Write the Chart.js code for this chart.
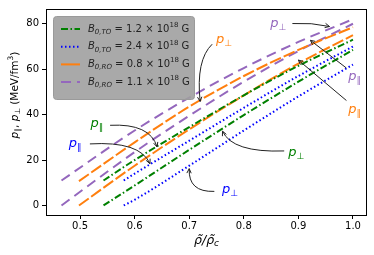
<!DOCTYPE html>
<html>
<head>
<meta charset="utf-8">
<script src="https://cdn.jsdelivr.net/npm/chart.js@4/dist/chart.umd.min.js"></script>
<style>
  html, body { margin: 0; padding: 0; background: #fff; }
  #wrap { width: 374px; height: 255px; }
</style>
</head>
<body>
<div id="wrap"><canvas id="chart" width="374" height="255"></canvas></div>
<script>
// data
const xPurple = [0.466, 0.6, 0.7, 0.8, 0.9, 1.0];
const purplePerp = [11, 33, 47.5, 60.5, 72, 82];
const purplePar = [0, 23.5, 39.5, 54.5, 68, 80];

const xOrange = [0.498, 0.6, 0.7, 0.8, 0.9, 1.0];
const orangePerp = [10.7, 27.8, 43.5, 57, 68.5, 78.5];
const orangePar = [0, 17.5, 33.5, 48.5, 62.5, 75];

const xGreen = [0.543, 0.6, 0.7, 0.8, 0.9, 1.0];
const greenPar = [11, 20, 34.5, 48.5, 61.5, 73];
const greenPerp = [0, 8.8, 24.5, 39.8, 54.5, 68.5];

const xBlue = [0.58, 0.6, 0.7, 0.8, 0.9, 1.0];
const bluePar = [11, 14, 28.5, 43, 57, 70];
const bluePerp = [0, 2.5, 17.5, 33, 48, 62];

const xTicks = [0.5, 0.6, 0.7, 0.8, 0.9, 1.0];
const yTicks = [0, 20, 40, 60, 80];

const legendItems = [
  { sub: '0,TO', val: '1.2', color: '#008000', dash: [7, 2.5, 1.5, 2.5] },
  { sub: '0,TO', val: '2.4', color: '#0000ff', dash: [1.5, 2.5] },
  { sub: '0,RO', val: '0.8', color: '#ff7f0e', dash: [] },
  { sub: '0,RO', val: '1.1', color: '#9467bd', dash: [10, 6] }
];

// annotation labels: text, arrow start, control, tip (data coords)
const notes = [
  { sym: '\u2225', color: '#008000', text: [0.531, 36.2], from: [0.555, 35.3], ctrl: [0.628, 36.2], to: [0.641, 25.8] },
  { sym: '\u2225', color: '#0000ff', text: [0.491, 27.1], from: [0.518, 27.1], ctrl: [0.610, 28.4], to: [0.628, 18.4] },
  { sym: '\u22a5', color: '#ff7f0e', text: [0.764, 73.2], from: [0.742, 71.0], ctrl: [0.712, 64.0], to: [0.720, 45.8] },
  { sym: '\u22a5', color: '#9467bd', text: [0.863, 80.1], from: [0.889, 80.1], ctrl: [0.924, 80.6], to: [0.957, 78.8] },
  { sym: '\u2225', color: '#9467bd', text: [1.003, 56.7], from: [0.988, 60.5], ctrl: null, to: [0.922, 72.7] },
  { sym: '\u2225', color: '#ff7f0e', text: [1.003, 42.2], from: [0.988, 46.2], ctrl: null, to: [0.900, 64.0] },
  { sym: '\u22a5', color: '#008000', text: [0.896, 23.2], from: [0.874, 24.0], ctrl: [0.779, 23.2], to: [0.761, 32.7] },
  { sym: '\u22a5', color: '#0000ff', text: [0.775, 7.1], from: [0.746, 6.2], ctrl: [0.698, 5.8], to: [0.700, 16.2] }
];

const FONT = '"DejaVu Sans", sans-serif';

function pts(xs, ys) {
  return xs.map((x, i) => ({ x: x, y: ys[i] }));
}

function ds(xs, ys, item) {
  return {
    data: pts(xs, ys),
    borderColor: item.color,
    borderDash: item.dash.length ? item.dash : (item.color === '#ff7f0e' ? [12, 3] : []),
    borderWidth: 2,
    pointRadius: 0,
    fill: false,
    cubicInterpolationMode: 'monotone'
  };
}

// draw text made of pieces (italic, sub, sup)
function rich(ctx, parts, x, y, align) {
  let w = 0;
  parts.forEach(p => {
    ctx.font = (p.it ? 'italic ' : '') + p.size + 'px ' + FONT;
    p.w = ctx.measureText(p.t).width;
    w += p.w;
  });
  let cx = align === 'center' ? x - w / 2 : x;
  parts.forEach(p => {
    ctx.font = (p.it ? 'italic ' : '') + p.size + 'px ' + FONT;
    ctx.fillText(p.t, cx, y + (p.dy || 0));
    cx += p.w;
  });
  return w;
}

const extras = {
  id: 'extras',
  afterDraw(chart) {
    const ctx = chart.ctx;
    const a = chart.chartArea;
    const xs = chart.scales.x, ys = chart.scales.y;
    const px = v => xs.getPixelForValue(v);
    const py = v => ys.getPixelForValue(v);
    ctx.save();

    // frame
    ctx.strokeStyle = '#000';
    ctx.lineWidth = 1;
    ctx.strokeRect(Math.round(a.left) + 0.5, Math.round(a.top) + 0.5,
      Math.round(a.right - a.left) - 1, Math.round(a.bottom - a.top));

    // annotations
    notes.forEach(n => {
      ctx.fillStyle = n.color;
      ctx.textBaseline = 'middle';
      rich(ctx, [
        { t: 'p', it: true, size: 13 },
        { t: n.sym, size: 9, dy: 4 }
      ], px(n.text[0]), py(n.text[1]), 'center');

      const sx = px(n.from[0]), sy = py(n.from[1]);
      const tx = px(n.to[0]), ty = py(n.to[1]);
      const c = n.ctrl ? [px(n.ctrl[0]), py(n.ctrl[1])] : [(sx + tx) / 2, (sy + ty) / 2];
      ctx.strokeStyle = '#222';
      ctx.lineWidth = 1;
      ctx.setLineDash([]);
      ctx.beginPath();
      ctx.moveTo(sx, sy);
      ctx.quadraticCurveTo(c[0], c[1], tx, ty);
      ctx.stroke();
      const ang = Math.atan2(ty - c[1], tx - c[0]);
      const L = 5;
      ctx.beginPath();
      ctx.moveTo(tx - L * Math.cos(ang - 0.45), ty - L * Math.sin(ang - 0.45));
      ctx.lineTo(tx, ty);
      ctx.lineTo(tx - L * Math.cos(ang + 0.45), ty - L * Math.sin(ang + 0.45));
      ctx.stroke();
    });

    // legend box
    const bx = a.left + 7, by = a.top + 7, bw = 141, bh = 83;
    ctx.fillStyle = 'rgba(160,160,160,0.9)';
    ctx.strokeStyle = '#9a9a9a';
    ctx.beginPath();
    ctx.roundRect(bx + 0.5, by + 0.5, bw, bh, 3);
    ctx.fill();
    ctx.stroke();
    legendItems.forEach((it, i) => {
      const ly = by + 13 + i * 17.7;
      ctx.strokeStyle = it.color;
      ctx.lineWidth = 2;
      ctx.setLineDash(it.dash);
      ctx.beginPath();
      ctx.moveTo(bx + 8, ly);
      ctx.lineTo(bx + 27, ly);
      ctx.stroke();
      ctx.setLineDash([]);
      ctx.fillStyle = '#222';
      ctx.textBaseline = 'middle';
      rich(ctx, [
        { t: 'B', it: true, size: 10 },
        { t: it.sub, it: true, size: 7, dy: 3 },
        { t: ' = ' + it.val + ' \u00d7 10', size: 10 },
        { t: '18', size: 7, dy: -4 },
        { t: ' G', size: 10 }
      ], bx + 35, ly, 'left');
    });

    // axis titles
    ctx.fillStyle = '#000';
    ctx.textBaseline = 'middle';
    rich(ctx, [
      { t: '\u03c1\u0303/\u03c1\u0303', it: true, size: 12.5 },
      { t: 'c', it: true, size: 9, dy: 3 }
    ], (a.left + a.right) / 2, 241, 'center');

    ctx.translate(15, 95);
    ctx.rotate(-Math.PI / 2);
    rich(ctx, [
      { t: 'p', it: true, size: 10.5 },
      { t: '\u2225', size: 7.5, dy: 3 },
      { t: ', ', size: 10.5 },
      { t: 'p', it: true, size: 10.5 },
      { t: '\u22a5', size: 7.5, dy: 3 },
      { t: ' (MeV/fm', size: 10.5 },
      { t: '3', size: 7.5, dy: -4 },
      { t: ')', size: 10.5 }
    ], 0, 0, 'center');
    ctx.restore();
  }
};

const ctx = document.getElementById('chart').getContext('2d');
new Chart(ctx, {
  type: 'line',
  data: {
    datasets: [
      ds(xGreen, greenPar, legendItems[0]),
      ds(xGreen, greenPerp, legendItems[0]),
      ds(xBlue, bluePar, legendItems[1]),
      ds(xBlue, bluePerp, legendItems[1]),
      ds(xOrange, orangePerp, legendItems[2]),
      ds(xOrange, orangePar, legendItems[2]),
      ds(xPurple, purplePerp, legendItems[3]),
      ds(xPurple, purplePar, legendItems[3])
    ]
  },
  options: {
    responsive: false,
    animation: false,
    layout: { padding: { left: 0, right: 7, top: 6, bottom: 0 } },
    plugins: { legend: { display: false }, tooltip: { enabled: false } },
    scales: {
      x: {
        type: 'linear',
        min: 0.4376, max: 1.0257,
        afterBuildTicks: s => { s.ticks = xTicks.map(v => ({ value: v })); },
        afterFit: s => { s.height = 40; },
        grid: { drawOnChartArea: false, tickLength: 4, tickColor: '#000' },
        border: { display: false },
        ticks: { color: '#000', font: { family: FONT, size: 10 }, padding: 1,
          maxRotation: 0, callback: v => v.toFixed(1) }
      },
      y: {
        min: -4.2, max: 86.5,
        afterBuildTicks: s => { s.ticks = yTicks.map(v => ({ value: v })); },
        afterFit: s => { s.width = 46; },
        grid: { drawOnChartArea: false, tickLength: 4, tickColor: '#000' },
        border: { display: false },
        ticks: { color: '#000', font: { family: FONT, size: 10 }, padding: 3,
          callback: v => String(v) }
      }
    }
  },
  plugins: [extras]
});
</script>
</body>
</html>
